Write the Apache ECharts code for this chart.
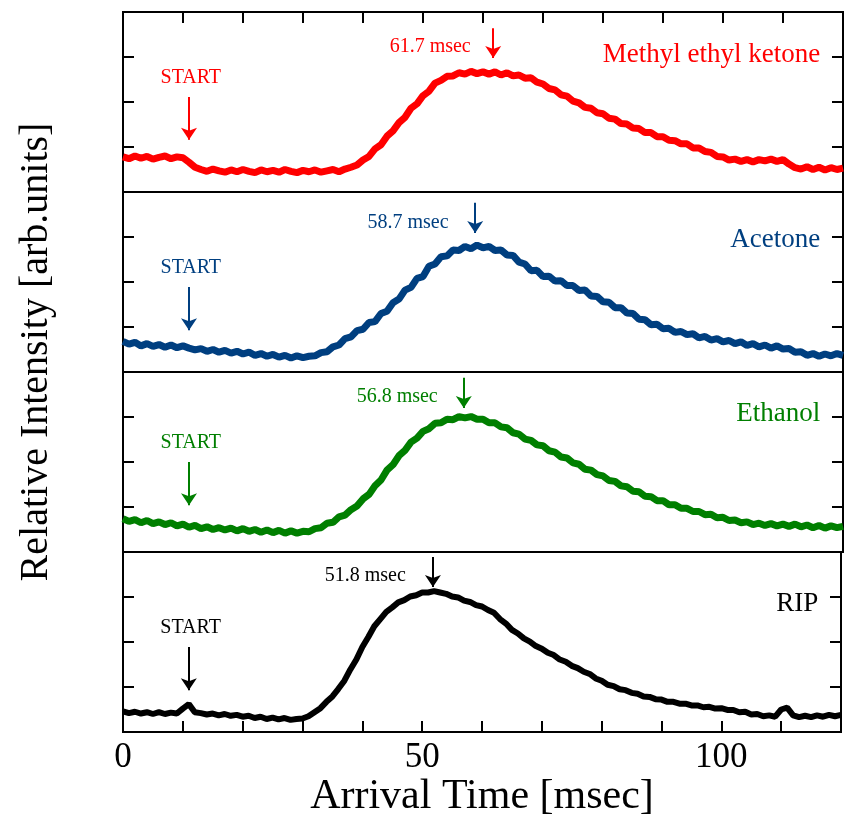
<!DOCTYPE html>
<html>
<head>
<meta charset="utf-8">
<script src="https://cdn.jsdelivr.net/npm/echarts@6/dist/echarts.min.js"></script>
<style>
html, body { margin: 0; padding: 0; background: #fff; }
#fig_arrival { width: 844px; height: 823px; }
</style>
</head>
<body>
<div id="fig_arrival"></div>
<script>
// arrival time spectra, one sample per msec from 0 to 120
var sampleStep = 1;

var panelNames = ['Methyl ethyl ketone', 'Acetone', 'Ethanol', 'RIP'];
var panelColors = ['#ff0000', '#003f80', '#007f00', '#000000'];
var peakTimes = [61.7, 58.7, 56.8, 51.8];
var startTime = 11;
var xTicks = [0, 50, 100];

var mekIntensity = [
    0.78, 0.74, 0.80, 0.75, 0.79, 0.73, 0.77, 0.80, 0.74, 0.78, 0.76,
    0.66, 0.55, 0.50, 0.46, 0.51, 0.47, 0.44, 0.49, 0.45, 0.50,
    0.46, 0.43, 0.49, 0.45, 0.48, 0.44, 0.50, 0.46, 0.43, 0.48,
    0.45, 0.49, 0.44, 0.47, 0.50, 0.45, 0.51, 0.55, 0.60, 0.71,
    0.79, 0.96, 1.05, 1.24, 1.36, 1.54, 1.66, 1.86, 1.96, 2.14,
    2.24, 2.42, 2.48, 2.57, 2.58, 2.65, 2.62, 2.68, 2.63, 2.67,
    2.62, 2.67, 2.60, 2.65, 2.58, 2.60, 2.53, 2.54, 2.44, 2.40,
    2.30, 2.27, 2.16, 2.13, 2.02, 1.98, 1.88, 1.86, 1.76, 1.74,
    1.64, 1.62, 1.52, 1.51, 1.42, 1.41, 1.32, 1.32, 1.23, 1.23,
    1.15, 1.14, 1.07, 1.07, 0.98, 0.98, 0.90, 0.88, 0.79, 0.78,
    0.71, 0.73, 0.68, 0.72, 0.67, 0.72, 0.69, 0.73, 0.68, 0.72,
    0.62, 0.54, 0.51, 0.56, 0.50, 0.55, 0.49, 0.54, 0.50, 0.53
];

var acetoneIntensity = [
    0.68, 0.62, 0.66, 0.58, 0.63, 0.57, 0.61, 0.55, 0.60, 0.54, 0.58,
    0.53, 0.49, 0.52, 0.46, 0.50, 0.44, 0.48, 0.42, 0.46, 0.40,
    0.44, 0.37, 0.41, 0.35, 0.39, 0.33, 0.37, 0.31, 0.36, 0.32,
    0.35, 0.36, 0.43, 0.45, 0.56, 0.60, 0.74, 0.78, 0.92, 0.95,
    1.10, 1.12, 1.30, 1.35, 1.54, 1.62, 1.82, 1.88, 2.08, 2.12,
    2.35, 2.40, 2.56, 2.58, 2.71, 2.70, 2.79, 2.74, 2.82, 2.76,
    2.79, 2.70, 2.71, 2.60, 2.59, 2.44, 2.40, 2.25, 2.26, 2.12,
    2.13, 2.02, 2.03, 1.92, 1.92, 1.81, 1.82, 1.69, 1.68, 1.56,
    1.55, 1.43, 1.43, 1.31, 1.30, 1.17, 1.16, 1.05, 1.06, 0.96,
    0.97, 0.88, 0.90, 0.83, 0.85, 0.76, 0.79, 0.71, 0.74, 0.67,
    0.70, 0.63, 0.67, 0.59, 0.63, 0.56, 0.60, 0.53, 0.58, 0.51,
    0.52, 0.44, 0.45, 0.37, 0.41, 0.35, 0.40, 0.36, 0.41, 0.37
];

var ethanolIntensity = [
    0.74, 0.68, 0.72, 0.65, 0.70, 0.63, 0.67, 0.61, 0.65, 0.58, 0.62,
    0.55, 0.59, 0.52, 0.56, 0.50, 0.54, 0.49, 0.53, 0.47, 0.52,
    0.46, 0.50, 0.44, 0.49, 0.43, 0.48, 0.42, 0.47, 0.42, 0.46,
    0.45, 0.52, 0.54, 0.64, 0.66, 0.78, 0.82, 0.94, 1.02, 1.18,
    1.28, 1.47, 1.60, 1.82, 1.94, 2.14, 2.26, 2.44, 2.53, 2.68,
    2.74, 2.86, 2.87, 2.95, 2.94, 3.01, 2.98, 3.01, 2.95, 2.95,
    2.87, 2.87, 2.78, 2.76, 2.65, 2.62, 2.51, 2.48, 2.38, 2.36,
    2.25, 2.22, 2.11, 2.09, 1.98, 1.95, 1.84, 1.82, 1.72, 1.69,
    1.59, 1.57, 1.47, 1.45, 1.35, 1.34, 1.24, 1.23, 1.14, 1.14,
    1.05, 1.05, 0.97, 0.97, 0.90, 0.90, 0.83, 0.84, 0.76, 0.77,
    0.70, 0.71, 0.65, 0.67, 0.61, 0.64, 0.59, 0.63, 0.58, 0.62,
    0.57, 0.62, 0.56, 0.60, 0.54, 0.59, 0.53, 0.58, 0.54, 0.57
];

var ripIntensity = [
    0.46, 0.42, 0.45, 0.41, 0.44, 0.40, 0.44, 0.40, 0.43, 0.41, 0.52,
    0.62, 0.44, 0.42, 0.39, 0.41, 0.37, 0.40, 0.36, 0.38, 0.34,
    0.36, 0.31, 0.34, 0.29, 0.32, 0.28, 0.31, 0.27, 0.29, 0.30,
    0.35, 0.44, 0.53, 0.67, 0.79, 0.96, 1.14, 1.39, 1.61, 1.89,
    2.11, 2.35, 2.51, 2.67, 2.77, 2.88, 2.93, 3.01, 3.04, 3.10,
    3.10, 3.13, 3.10, 3.07, 3.01, 2.99, 2.92, 2.89, 2.82, 2.79,
    2.71, 2.65, 2.51, 2.41, 2.27, 2.19, 2.08, 2.01, 1.91, 1.85,
    1.76, 1.71, 1.61, 1.56, 1.47, 1.42, 1.34, 1.29, 1.19, 1.14,
    1.05, 1.02, 0.95, 0.93, 0.87, 0.85, 0.79, 0.78, 0.73, 0.72,
    0.67, 0.67, 0.63, 0.63, 0.59, 0.59, 0.55, 0.56, 0.52, 0.53,
    0.49, 0.49, 0.44, 0.45, 0.39, 0.40, 0.35, 0.37, 0.34, 0.50,
    0.54, 0.37, 0.33, 0.36, 0.33, 0.37, 0.34, 0.38, 0.35, 0.38
];

var panelData = [mekIntensity, acetoneIntensity, ethanolIntensity, ripIntensity];

// where the annotations sit inside each panel (panel units 0..4)
var layout = [
    { startText: 2.53, startArrow: [2.11, 1.16], peakText: [51.2, 3.22], peakArrow: [3.64, 2.98], name: 3.04 },
    { startText: 2.31, startArrow: [1.89, 0.93], peakText: [47.5, 3.31], peakArrow: [3.76, 3.09], name: 2.93 },
    { startText: 2.42, startArrow: [2.00, 1.04], peakText: [45.7, 3.44], peakArrow: [3.87, 3.20], name: 3.07 },
    { startText: 2.31, startArrow: [1.89, 0.93], peakText: [40.5, 3.47], peakArrow: [3.89, 3.22], name: 2.84 }
];

var serif = '"Liberation Serif", "Times New Roman", serif';
var tickStyle = { inside: true, length: 11, lineStyle: { color: '#000', width: 2 } };

var grids = [], xAxes = [], yAxes = [], series = [];

for (let i = 0; i < 4; i++) {
    const last = (i === 3);
    const color = panelColors[i];
    const lay = layout[i];

    grids.push({
        left: 123, width: 720, top: 12 + i * 180, height: 180,
        show: true, borderColor: '#000', borderWidth: 2
    });

    xAxes.push({
        gridIndex: i, type: 'value', position: 'bottom', show: last,
        min: 0, max: 120, interval: 10,
        axisLine: { show: false, onZero: false },
        axisTick: tickStyle,
        axisLabel: {
            margin: 8, color: '#000', fontSize: 35, fontFamily: serif,
            formatter: function(v) { return xTicks.indexOf(v) >= 0 ? String(v) : ''; }
        },
        splitLine: { show: false },
        name: 'Arrival Time [msec]',
        nameLocation: 'middle',
        nameGap: 44,
        nameTextStyle: { color: '#000', fontSize: 42, fontFamily: serif }
    });

    ['left', 'right'].forEach(function(pos) {
        yAxes.push({
            gridIndex: i, type: 'value', position: pos, min: 0, max: 4, interval: 1,
            axisLine: { show: false, onZero: false },
            axisTick: tickStyle,
            axisLabel: { show: false },
            splitLine: { show: false }
        });
    });

    const textLabel = function(size, extra) {
        return Object.assign({ show: true, formatter: '{b}', color: color, fontSize: size, fontFamily: serif, position: 'inside' }, extra || {});
    };

    series.push({
        type: 'line',
        name: panelNames[i],
        xAxisIndex: i,
        yAxisIndex: 2 * i,
        data: panelData[i].map(function(v, k) { return [k * sampleStep, v]; }),
        showSymbol: false,
        symbol: 'none',
        lineStyle: { color: color, width: last ? 6 : 7 },
        itemStyle: { color: color },
        markLine: {
            silent: true,
            symbol: ['none', 'arrow'],
            symbolSize: 12,
            label: { show: false },
            lineStyle: { color: color, width: 2, type: 'solid' },
            data: [
                [{ coord: [startTime, lay.startArrow[0]] }, { coord: [startTime, lay.startArrow[1]] }],
                [{ coord: [peakTimes[i], lay.peakArrow[0]] }, { coord: [peakTimes[i], lay.peakArrow[1]] }]
            ]
        },
        markPoint: {
            silent: true,
            symbol: 'rect',
            symbolSize: 1,
            itemStyle: { color: 'rgba(0,0,0,0)' },
            data: [
                { name: 'START', coord: [startTime + 0.3, lay.startText], label: textLabel(20) },
                { name: peakTimes[i].toFixed(1) + ' msec', coord: lay.peakText, label: textLabel(20) },
                { name: panelNames[i], coord: [116.3, lay.name], label: textLabel(27, { position: 'left', distance: 0 }) }
            ]
        }
    });
}

// ticks along the top edge of the top panel
xAxes.push({
    gridIndex: 0, type: 'value', position: 'top', min: 0, max: 120, interval: 10,
    axisLine: { show: false, onZero: false },
    axisTick: tickStyle,
    axisLabel: { show: false },
    splitLine: { show: false }
});

var option = {
    animation: false,
    backgroundColor: '#fff',
    grid: grids,
    xAxis: xAxes,
    yAxis: yAxes,
    series: series,
    graphic: [{
        type: 'text',
        x: 36, y: 352,
        rotation: Math.PI / 2,
        style: {
            text: 'Relative Intensity [arb.units]',
            fill: '#000',
            fontSize: 40,
            fontFamily: serif,
            align: 'center',
            verticalAlign: 'middle'
        }
    }]
};

var chart = echarts.init(document.getElementById('fig_arrival'));
chart.setOption(option);
</script>
</body>
</html>
